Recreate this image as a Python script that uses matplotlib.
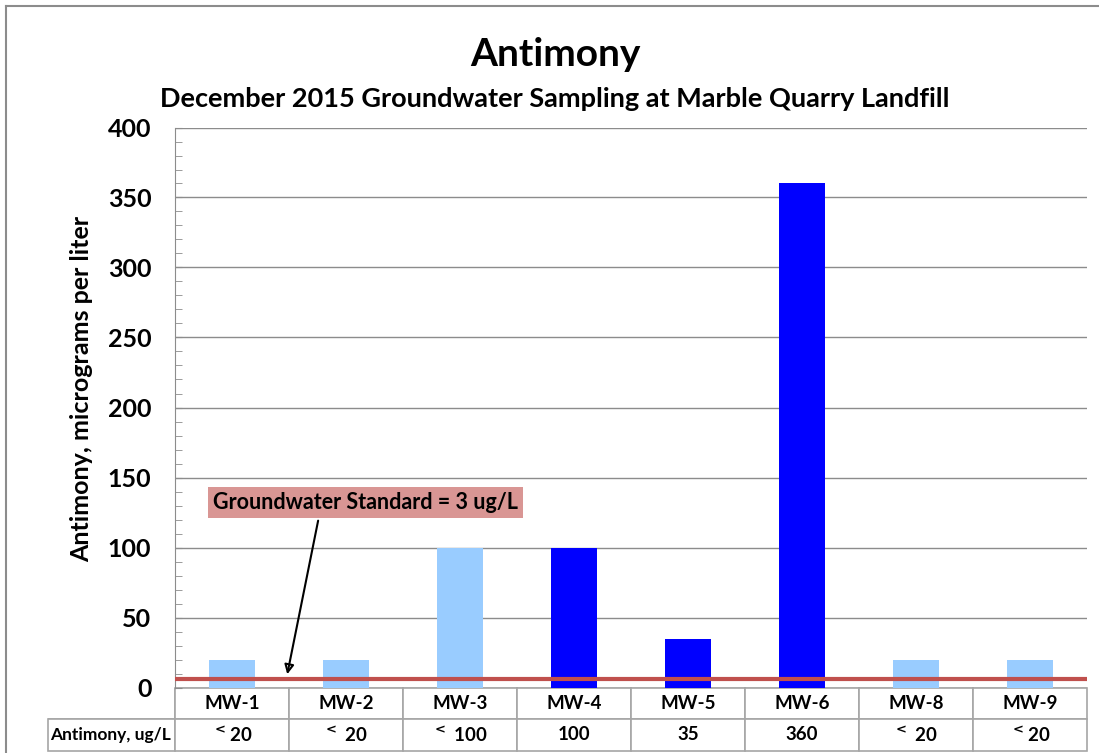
import numpy as np
import matplotlib.pyplot as plt
from matplotlib.ticker import MultipleLocator

# - Data - #
wells = ["MW-1", "MW-2", "MW-3", "MW-4", "MW-5", "MW-6", "MW-8", "MW-9"]
antimony = [20, 20, 100, 100, 35, 360, 20, 20]
detected = [False, False, False, True, True, True, False, False]
table_text = ["$^{<}$20", "$^{<}$ 20", "$^{<}$ 100", "100", "35", "360", "$^{<}$ 20", "$^{<}$20"]
standard_line = 6
standard_label = "Groundwater Standard = 3 ug/L"

plt.rcParams["font.family"] = ["Lato", "DejaVu Sans"]
plt.rcParams["font.weight"] = "bold"
plt.rcParams["mathtext.default"] = "bf"

# - Figure and Axes - #
fig = plt.figure(figsize=(10.99, 7.53), dpi=100)
W, H = 1099, 753
ax = fig.add_axes([175 / W, (H - 687.5) / H, 912 / W, 560 / H])

# outer chart border
fig.add_artist(plt.Line2D([6 / W, 6 / W], [0, 1 - 6 / H], color="#8c8c8c", lw=1.5))
fig.add_artist(plt.Line2D([6 / W, 1], [1 - 6 / H, 1 - 6 / H], color="#8c8c8c", lw=1.5))

x = np.arange(len(wells))
colors = ["#0000FF" if d else "#99CCFF" for d in detected]
ax.bar(x, antimony, width=0.4, color=colors, zorder=2)
ax.axhline(standard_line, color="#C0504D", lw=3, zorder=3)

ax.set_xlim(-0.5, len(wells) - 0.5)
ax.set_ylim(0, 400)
ax.yaxis.set_major_locator(MultipleLocator(50))
ax.yaxis.set_minor_locator(MultipleLocator(10))
ax.grid(axis="y", color="#8c8c8c", lw=1, zorder=0)
ax.set_xticks([])
for s in ["top", "right", "bottom"]:
    ax.spines[s].set_visible(False)
ax.spines["left"].set_color("#8c8c8c")
ax.tick_params(axis="y", which="both", direction="in", length=5, color="#8c8c8c",
               labelsize=18, pad=17)
for lab in ax.get_yticklabels():
    lab.set_fontweight("bold")
ax.set_ylabel("Antimony, micrograms per liter", fontsize=18, fontweight="bold")
ax.yaxis.set_label_coords(-0.09, 0.533)

# - Titles - #
fig.text(555 / W, 1 - 55 / H, "Antimony", ha="center", va="center", fontsize=28, fontweight="bold")
fig.text(555 / W, 1 - 99 / H, "December 2015 Groundwater Sampling at Marble Quarry Landfill",
         ha="center", va="center", fontsize=19.5, fontweight="bold")

# - Annotation - #
ax.annotate(standard_label, xy=(0.48, standard_line + 1.5), xytext=(1.17, 132),
            ha="center", va="center", fontsize=15.5, fontweight="bold",
            bbox=dict(boxstyle="square,pad=0.22", fc="#D99694", ec="none"),
            arrowprops=dict(arrowstyle="-|>", color="black", lw=1.5, relpos=(0.35, 0),
                            mutation_scale=14, fill=False), zorder=5)

# - Data table - #
label_w, col_w = 127, 114
widths = [label_w] + [col_w] * len(wells)
tot = sum(widths)
cells = [[""] + wells, ["Antimony, ug/L"] + table_text]
tab = ax.table(cellText=cells, colWidths=[w / tot for w in widths], cellLoc="center",
               bbox=[(48 - 175) / 912, -63 / 560, tot / 912, 63 / 560])
tab.auto_set_font_size(False)
for (r, c), cell in tab.get_celld().items():
    cell.set_edgecolor("#a6a6a6")
    cell.set_linewidth(1.2)
    cell.get_text().set_fontsize(13.5)
    cell.get_text().set_fontweight("bold")
    if r == 0 and c == 0:
        cell.visible_edges = "BR"
    if c == 0 and r == 1:
        cell.get_text().set_fontsize(12.5)
        cell.get_text().set_ha("left")
        cell.PAD = 0.02

fig.savefig("out.png", dpi=100)
